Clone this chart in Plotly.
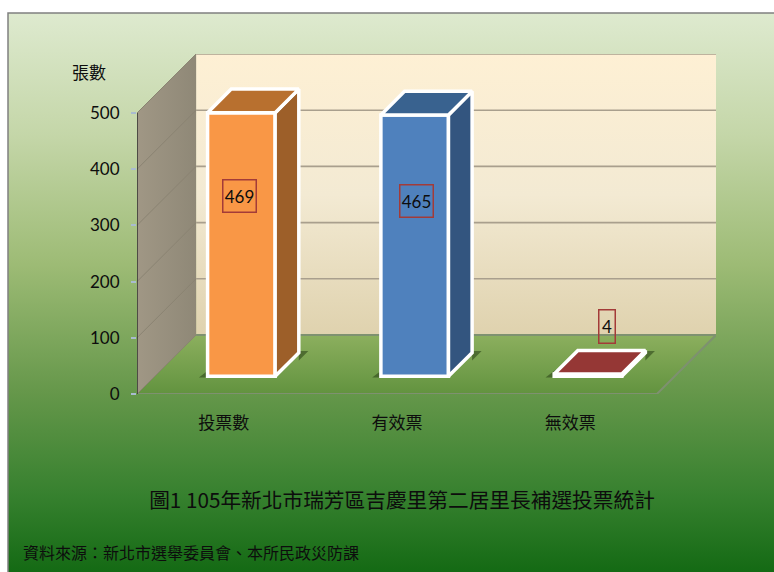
import plotly.graph_objects as go

# ---- data ----
categories = ["投票數", "有效票", "無效票"]
votes = [469, 465, 4]
y_ticks = [0, 100, 200, 300, 400, 500]
title_text = "圖1 105年新北市瑞芳區吉慶里第二居里長補選投票統計"
source_text = "資料來源\uff1a新北市選舉委員會、本所民政災防課"
y_title = "張數"

# ---- styles ----
W, H = 774, 572
front_colors = ["#F99746", "#4F81BD", "#953735"]
side_colors = ["#9D5F29", "#33557F", "#6E2826"]
top_colors = ["#B8702F", "#39628F", "#953735"]
label_levels = [352, 343, 120]
label_dx = [0.0925, 0.1156, 0.214]
label_box = [(35, 34), (35, 34), (18, 35)]
CJK = "Noto Sans CJK TC"
NUM = "Lato"
INK = "#0d0d0d"

# plot geometry: front plane in x/y units, depth is an oblique projection
x_lo, x_hi = -0.5, 2.5
y_top = 500
DX, DY = 59 / 173, 105.0
D_FRONT, D_BACK = 0.3, 0.7
BAR_W = 0.39
x_range = [x_lo, x_hi + DX]
y_range = [0, y_top + DY]
dom_x = [137 / W, 716 / W]
dom_y = [(H - 394) / H, (H - 54) / H]


def proj(x, v, d):
    return x + d * DX, v + d * DY


def poly(points):
    xs = [proj(*p)[0] for p in points]
    ys = [proj(*p)[1] for p in points]
    return xs + xs[:1], ys + ys[:1]


fig = go.Figure()

# background panel (subplot 1, pixel-sized hidden axes)
fig.add_trace(go.Scatter(
    x=[8, 8, 800, 800, 8], y=[-20, 559, 559, -20, -20], mode="lines", fill="toself",
    line=dict(color="#808080", width=1.5), xaxis="x", yaxis="y",
    fillgradient=dict(type="vertical", start=0, stop=559, colorscale=[
        [0.0, "#146A14"], [0.14, "#37812F"], [0.32, "#65974A"], [0.55, "#9DBB75"],
        [0.78, "#C4D6A8"], [1.0, "#DEEACF"]]),
    hoverinfo="skip", showlegend=False))

# back wall
xs, ys = poly([(x_lo, 0, 1), (x_hi, 0, 1), (x_hi, y_top, 1), (x_lo, y_top, 1)])
fig.add_trace(go.Scatter(
    x=xs, y=ys, mode="lines", fill="toself", line=dict(width=0, color="rgba(0,0,0,0)"),
    fillgradient=dict(type="vertical", start=ys[0], stop=ys[2], colorscale=[
        [0, "#DFD2AE"], [0.5, "#F3EAD3"], [1, "#FEF0D4"]]),
    xaxis="x2", yaxis="y2", hoverinfo="skip", showlegend=False))
# side wall
xs, ys = poly([(x_lo, 0, 0), (x_lo, 0, 1), (x_lo, y_top, 1), (x_lo, y_top, 0)])
fig.add_trace(go.Scatter(
    x=xs, y=ys, mode="lines", fill="toself", line=dict(width=0, color="rgba(0,0,0,0)"),
    fillgradient=dict(type="horizontal", start=xs[0], stop=xs[1], colorscale=[
        [0, "#A09785"], [1, "#8F8877"]]),
    xaxis="x2", yaxis="y2", hoverinfo="skip", showlegend=False))
# floor
xs, ys = poly([(x_lo, 0, 0), (x_hi, 0, 0), (x_hi, 0, 1), (x_lo, 0, 1)])
fig.add_trace(go.Scatter(
    x=xs, y=ys, mode="lines", fill="toself", line=dict(width=0, color="rgba(0,0,0,0)"),
    fillgradient=dict(type="vertical", start=ys[0], stop=ys[2], colorscale=[
        [0, "#62933F"], [1, "#8CAF5E"]]),
    xaxis="x2", yaxis="y2", hoverinfo="skip", showlegend=False))
# gridlines on the back wall / side wall
gx_back, gy_back, gx_side, gy_side = [], [], [], []
for t in y_ticks:
    a = proj(x_lo, t, 0)
    b = proj(x_lo, t, 1)
    c = proj(x_hi, t, 1)
    gx_side += [a[0], b[0], None]
    gy_side += [a[1], b[1], None]
    gx_back += [b[0], c[0], None]
    gy_back += [b[1], c[1], None]
fig.add_trace(go.Scatter(x=gx_side, y=gy_side, mode="lines", line=dict(color="#8A8372", width=1),
                         xaxis="x2", yaxis="y2", hoverinfo="skip", showlegend=False))
fig.add_trace(go.Scatter(x=gx_back, y=gy_back, mode="lines", line=dict(color="#A99F8D", width=1.6),
                         xaxis="x2", yaxis="y2", hoverinfo="skip", showlegend=False))
# floor edges
ex, ey = [], []
for pts in [[(x_lo, 0, 1), (x_hi, 0, 1)], [(x_lo, 0, 0), (x_hi, 0, 0), (x_hi, 0, 1)]]:
    for p in pts:
        q = proj(*p)
        ex.append(q[0])
        ey.append(q[1])
    ex.append(None)
    ey.append(None)
fig.add_trace(go.Scatter(x=ex, y=ey, mode="lines", line=dict(color="#7E9170", width=2),
                         cliponaxis=False,
                         xaxis="x2", yaxis="y2", hoverinfo="skip", showlegend=False))
# soft contact shadows
sx, sy = [], []
for i in range(len(votes)):
    L, R = i - BAR_W / 2, i + BAR_W / 2
    p0 = proj(L, 0, D_FRONT)
    sx += [p0[0] - 0.05, p0[0] + 0.01, p0[0] + 0.01, p0[0] - 0.05, None]
    sy += [p0[1] - 2, p0[1] + 12, p0[1] - 2, p0[1] - 2, None]
    p1 = proj(R, 0, D_BACK)
    sx += [p1[0], p1[0] + 0.055, p1[0], p1[0], None]
    sy += [p1[1] + 3, p1[1] + 3, p1[1] - 14, p1[1] + 3, None]
fig.add_trace(go.Scatter(x=sx, y=sy, mode="lines", fill="toself", fillcolor="rgba(45,70,25,0.6)",
                         line=dict(width=0, color="rgba(0,0,0,0)"),
                         xaxis="x2", yaxis="y2", hoverinfo="skip", showlegend=False))

# bar front faces
x_pos = list(range(len(categories)))
fig.add_trace(go.Bar(
    x=[proj(i, 0, D_FRONT)[0] for i in x_pos], y=votes, base=[proj(0, 0, D_FRONT)[1]] * 3,
    width=BAR_W, marker=dict(color=front_colors, line=dict(color="#FFFFFF", width=3.5)),
    xaxis="x3", yaxis="y3", hoverinfo="skip", showlegend=False))

# bar side and top faces
for i, v in enumerate(votes):
    L, R = i - BAR_W / 2, i + BAR_W / 2
    xs, ys = poly([(R, 0, D_FRONT), (R, 0, D_BACK), (R, v, D_BACK), (R, v, D_FRONT)])
    fig.add_trace(go.Scatter(x=xs, y=ys, mode="lines", fill="toself", fillcolor=side_colors[i],
                             line=dict(color="#FFFFFF", width=3.5), xaxis="x3", yaxis="y3",
                             hoverinfo="skip", showlegend=False))
    xs, ys = poly([(L, v, D_FRONT), (R, v, D_FRONT), (R, v, D_BACK), (L, v, D_BACK)])
    fig.add_trace(go.Scatter(x=xs, y=ys, mode="lines", fill="toself", fillcolor=top_colors[i],
                             line=dict(color="#FFFFFF", width=3.5), xaxis="x3", yaxis="y3",
                             hoverinfo="skip", showlegend=False))

# vertical axis line
fig.add_trace(go.Scatter(x=[x_lo, x_lo], y=[0, y_top], mode="lines", line=dict(color="#222222", width=1.3),
                         cliponaxis=False,
                         xaxis="x3", yaxis="y3", hoverinfo="skip", showlegend=False))

annotations = [
    dict(x=i + label_dx[i], y=label_levels[i], xref="x3", yref="y3", text=str(v), showarrow=False,
         font=dict(family=NUM, size=17, color=INK), bordercolor="#A33B38", borderwidth=1.5,
         width=label_box[i][0] - 3, height=label_box[i][1] - 3, borderpad=0,
         xanchor="center", yanchor="middle", align="center", valign="middle")
    for i, v in enumerate(votes)
]
annotations += [
    dict(x=89 / W, y=1 - 72 / H, xref="paper", yref="paper", text=y_title, showarrow=False,
         font=dict(family=CJK, size=17, color=INK), xanchor="center", yanchor="middle"),
    dict(x=21 / W, y=1 - 552 / H, xref="paper", yref="paper", text=source_text, showarrow=False,
         font=dict(family=CJK, size=16, color=INK), xanchor="left", yanchor="middle"),
]

hidden = dict(visible=False, fixedrange=True)
fig.update_layout(
    width=W, height=H, autosize=False,
    margin=dict(l=0, r=0, t=0, b=0, pad=0, autoexpand=False),
    paper_bgcolor="#FFFFFF", plot_bgcolor="rgba(0,0,0,0)",
    showlegend=False, barmode="overlay",
    title=dict(text=title_text, x=402 / W, y=1 - 501 / H, xref="paper", yref="paper",
               xanchor="center", yanchor="middle", automargin=False,
               font=dict(family=CJK, size=20.7, color=INK)),
    xaxis=dict(hidden, domain=[0, 1], range=[0, W], anchor="y"),
    yaxis=dict(hidden, domain=[0, 1], range=[0, H], anchor="x"),
    xaxis2=dict(hidden, domain=dom_x, range=x_range, anchor="y2"),
    yaxis2=dict(hidden, domain=dom_y, range=y_range, anchor="x2"),
    xaxis3=dict(domain=dom_x, range=x_range, anchor="y3", fixedrange=True, showgrid=False,
                zeroline=False, showline=False, tickmode="array", tickvals=x_pos, ticktext=categories,
                ticks="", ticklabelstandoff=17, tickfont=dict(family=CJK, size=17, color=INK)),
    yaxis3=dict(domain=dom_y, range=y_range, anchor="x3", fixedrange=True, showgrid=False,
                zeroline=False, showline=False, tickmode="array", tickvals=y_ticks,
                ticktext=[str(t) for t in y_ticks], ticks="outside", ticklen=5, tickwidth=1.5,
                tickcolor="#A9BBD0", ticklabelstandoff=8, tickfont=dict(family=NUM, size=17, color=INK)),
    annotations=annotations,
)

fig.write_html("out.html", config=dict(displayModeBar=False, responsive=False),
               post_script="document.body.style.margin='0';document.body.style.overflow='hidden';")
